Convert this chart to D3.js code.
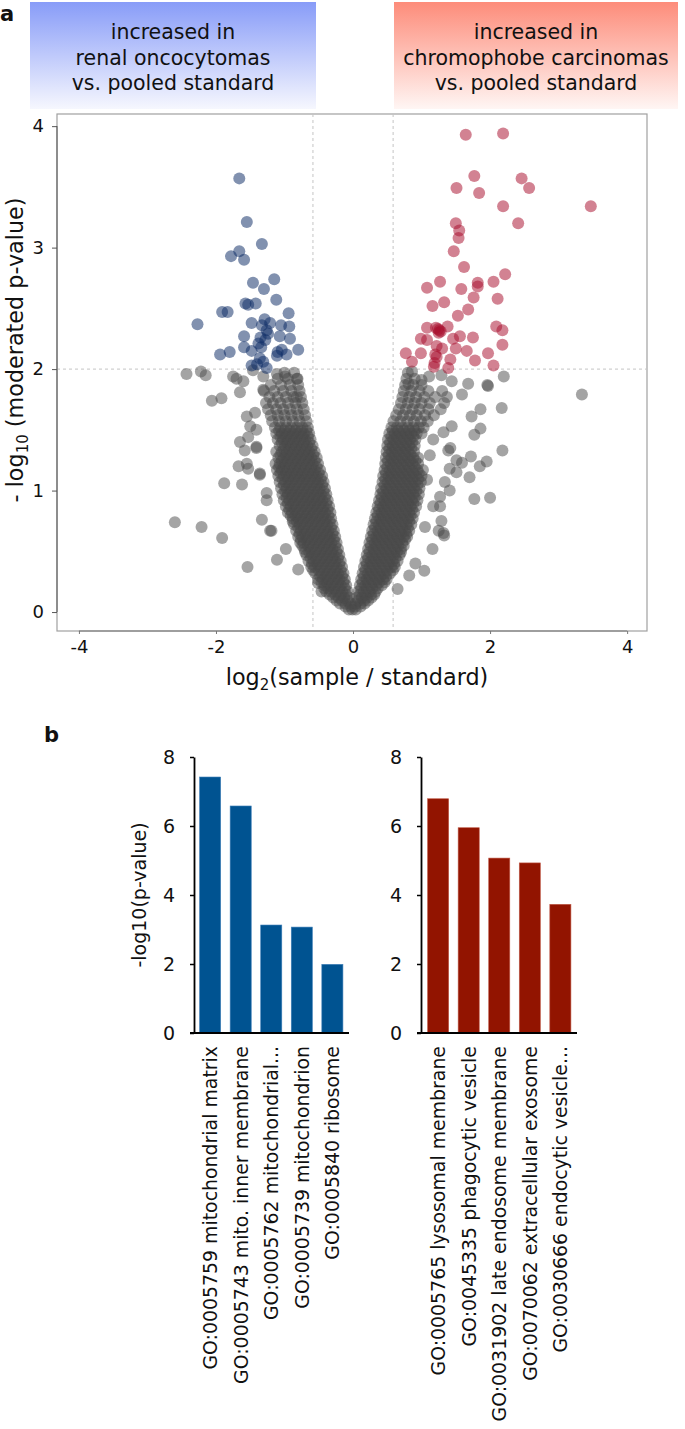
<!DOCTYPE html>
<html><head><meta charset="utf-8">
<script src="https://cdn.jsdelivr.net/npm/d3@7"></script>
<style>
body{margin:0;background:#fff}
text{font-family:"DejaVu Sans",sans-serif;fill:#111}
</style></head>
<body><svg id="c" width="685" height="1429"></svg>
<script>
// ---------------- DATA ----------------
const volcanoXTicks = [-4, -2, 0, 2, 4];
const volcanoYTicks = [0, 1, 2, 3, 4];
const fcThreshold = 0.585;   // log2(1.5)
const pThreshold = 2;

const bluePoints = [[-1.66,3.57],[-1.55,3.21],[-1.33,3.03],[-1.78,2.93],[-1.66,2.97],[-1.59,2.90],[-1.15,2.74],[-1.46,2.71],[-1.30,2.66],[-1.12,2.57],[-1.57,2.54],[-1.42,2.54],[-1.53,2.53],[-1.91,2.47],[-1.83,2.47],[-0.94,2.46],[-2.27,2.37],[-1.48,2.38],[-1.29,2.41],[-1.21,2.38],[-1.05,2.36],[-0.93,2.35],[-1.26,2.32],[-1.59,2.27],[-1.07,2.27],[-0.92,2.25],[-1.28,2.24],[-1.38,2.21],[-1.59,2.18],[-1.48,2.15],[-1.04,2.16],[-0.80,2.16],[-1.94,2.12],[-1.80,2.14],[-1.11,2.11],[-0.97,2.12],[-1.36,2.09],[-1.48,2.03],[-1.31,2.06],[-1.26,2.01],[-1.33,2.36],[-1.24,2.29],[-1.34,2.18],[-1.10,2.14],[-1.40,2.04],[-1.35,2.26]];

const redPoints = [[1.645,3.93],[2.19,3.94],[1.77,3.59],[2.46,3.57],[2.57,3.49],[1.51,3.49],[1.84,3.45],[2.19,3.34],[3.47,3.34],[2.41,3.20],[1.50,3.20],[1.55,3.14],[1.54,3.08],[1.47,2.97],[1.62,2.84],[2.22,2.78],[2.05,2.72],[1.82,2.71],[1.82,2.68],[1.27,2.72],[1.08,2.67],[1.58,2.66],[1.76,2.59],[2.11,2.58],[1.33,2.55],[1.16,2.52],[1.68,2.49],[1.53,2.44],[2.09,2.35],[2.18,2.32],[1.38,2.35],[1.08,2.34],[1.21,2.34],[1.26,2.32],[1.28,2.31],[0.99,2.25],[1.08,2.24],[1.46,2.25],[1.56,2.27],[1.75,2.26],[2.18,2.20],[1.22,2.19],[1.30,2.17],[1.50,2.17],[1.66,2.15],[0.77,2.13],[0.99,2.13],[1.97,2.13],[1.22,2.10],[1.42,2.08],[0.86,2.06],[1.78,2.07],[1.19,2.05],[2.05,2.03],[1.39,2.01],[1.18,2.02],[1.24,2.33],[1.25,2.30],[1.20,2.12]];

const grayOutliers = [[-2.43,1.96],[-2.22,1.98],[-2.15,1.95],[-2.06,1.74],[-1.92,1.76],[-1.70,1.92],[-1.60,1.90],[-1.65,1.81],[-1.55,1.61],[-1.50,1.53],[-1.65,1.40],[-1.53,1.44],[-1.41,1.35],[-1.58,1.33],[-1.67,1.20],[-1.55,1.22],[-1.53,1.18],[-1.36,1.13],[-1.88,1.06],[-1.62,1.05],[-1.26,0.98],[-2.60,0.74],[-2.21,0.70],[-1.91,0.61],[-1.54,0.37],[-1.11,0.43],[-1.33,0.76],[-0.98,0.52],[-1.21,0.67],[-1.26,0.92],
[-1.75,1.94],[-1.46,1.99],[-1.31,1.94],[-1.11,1.96],[-0.99,1.94],[-0.81,1.92],
[-1.41,1.36],[-1.36,1.14],[-1.19,0.67],[-0.80,0.35],[-1.41,1.50],[-1.43,1.64],[-1.31,1.83],[-0.82,1.77],[-0.51,0.24],[-0.46,0.17],
[3.34,1.79],[2.20,1.94],[1.97,1.86],[1.68,1.88],[1.59,1.79],[1.44,1.90],[2.17,1.68],[1.86,1.67],[1.73,1.61],[1.86,1.51],[1.77,1.46],[2.18,1.33],[1.72,1.28],[1.59,1.23],[1.95,1.24],[1.85,1.20],[1.70,1.11],[1.51,1.15],[1.41,1.18],[1.39,1.33],[1.77,0.93],[2.00,0.94],[1.41,1.00],[1.34,1.07],[1.29,0.75],[1.33,0.63],[1.25,0.67],[1.16,0.52],[1.04,0.34],[0.82,0.30],[1.05,0.70],[1.27,0.87],[1.44,1.53],[1.32,1.48],[1.17,1.42],[1.12,1.29],[0.65,0.19],
[0.86,1.98],[0.81,1.88],[1.00,1.91],[1.11,1.94],[1.29,1.95],[1.96,1.87],
[1.27,0.95],[1.17,0.87],[1.32,0.65],[0.91,0.40],[1.08,1.09],[1.51,1.25],[1.42,1.35]];

// dense core of non-significant proteins, read row by row: [y, x values]
const grayCoreRows = [
[0.02,[-0.06,-0.01,0.04]],
[0.045,[-0.03,-0.11,0.03,0.11]],
[0.07,[-0.04,-0.11,-0.19,0.04,0.11,0.17]],
[0.095,[-0.08,-0.16,-0.24,0.08,0.16,0.22]],
[0.12,[-0.06,-0.13,-0.21,-0.29,0.06,0.13,0.20,0.27]],
[0.145,[-0.10,-0.18,-0.26,-0.34,0.10,0.18,0.26,0.31]],
[0.17,[-0.08,-0.16,-0.24,-0.32,-0.39,0.08,0.16,0.24,0.33]],
[0.195,[-0.12,-0.20,-0.28,-0.36,-0.42,0.12,0.20,0.28,0.36]],
[0.22,[-0.10,-0.18,-0.26,-0.34,-0.42,0.10,0.18,0.26,0.34,0.42]],
[0.245,[-0.14,-0.22,-0.30,-0.38,-0.46,0.14,0.22,0.30,0.38,0.46]],
[0.27,[-0.12,-0.20,-0.28,-0.36,-0.44,-0.51,0.12,0.20,0.28,0.36,0.44,0.49]],
[0.295,[-0.16,-0.24,-0.32,-0.40,-0.48,0.16,0.24,0.32,0.40,0.48]],
[0.32,[-0.14,-0.22,-0.30,-0.38,-0.46,-0.55,0.14,0.22,0.30,0.38,0.46,0.54]],
[0.345,[-0.18,-0.26,-0.34,-0.42,-0.50,-0.58,0.18,0.26,0.34,0.42,0.50,0.58]],
[0.37,[-0.16,-0.24,-0.32,-0.40,-0.48,-0.56,-0.61,0.16,0.24,0.32,0.40,0.48,0.56,0.61]],
[0.395,[-0.20,-0.28,-0.36,-0.44,-0.52,-0.60,0.20,0.28,0.36,0.44,0.52,0.60]],
[0.42,[-0.18,-0.26,-0.34,-0.42,-0.50,-0.58,-0.65,0.18,0.26,0.34,0.42,0.50,0.58,0.65]],
[0.445,[-0.22,-0.30,-0.38,-0.46,-0.54,-0.62,0.22,0.30,0.38,0.46,0.54,0.62]],
[0.47,[-0.20,-0.28,-0.36,-0.44,-0.52,-0.60,-0.68,0.20,0.28,0.36,0.44,0.52,0.60,0.68]],
[0.495,[-0.24,-0.32,-0.40,-0.48,-0.56,-0.64,-0.70,0.24,0.32,0.40,0.48,0.56,0.64,0.70]],
[0.52,[-0.22,-0.30,-0.38,-0.46,-0.54,-0.62,-0.71,0.22,0.30,0.38,0.46,0.54,0.62,0.70]],
[0.545,[-0.26,-0.34,-0.42,-0.50,-0.58,-0.66,-0.74,0.26,0.34,0.42,0.50,0.58,0.66,0.74]],
[0.57,[-0.24,-0.32,-0.40,-0.48,-0.56,-0.64,-0.72,-0.77,0.24,0.32,0.40,0.48,0.56,0.64,0.72]],
[0.595,[-0.28,-0.36,-0.44,-0.52,-0.60,-0.68,-0.76,0.28,0.36,0.44,0.52,0.60,0.68,0.76]],
[0.62,[-0.26,-0.34,-0.42,-0.50,-0.58,-0.66,-0.74,-0.80,0.26,0.34,0.42,0.50,0.58,0.66,0.74,0.79]],
[0.645,[-0.30,-0.38,-0.46,-0.54,-0.62,-0.70,-0.78,0.30,0.38,0.46,0.54,0.62,0.70,0.78]],
[0.67,[-0.28,-0.36,-0.44,-0.52,-0.60,-0.68,-0.76,-0.83,0.28,0.36,0.44,0.52,0.60,0.68,0.76,0.82]],
[0.695,[-0.32,-0.40,-0.48,-0.56,-0.64,-0.72,-0.80,0.32,0.40,0.48,0.56,0.64,0.72,0.80]],
[0.72,[-0.30,-0.38,-0.46,-0.54,-0.62,-0.70,-0.78,-0.86,0.30,0.38,0.46,0.54,0.62,0.70,0.78,0.85]],
[0.745,[-0.34,-0.42,-0.50,-0.58,-0.66,-0.74,-0.82,-0.88,0.34,0.42,0.50,0.58,0.66,0.74,0.82]],
[0.77,[-0.32,-0.40,-0.48,-0.56,-0.64,-0.72,-0.80,-0.88,0.32,0.40,0.48,0.56,0.64,0.72,0.80,0.87]],
[0.795,[-0.36,-0.44,-0.52,-0.60,-0.68,-0.76,-0.84,-0.91,0.36,0.44,0.52,0.60,0.68,0.76,0.84]],
[0.82,[-0.33,-0.41,-0.49,-0.57,-0.65,-0.73,-0.81,-0.89,-0.95,0.34,0.42,0.50,0.58,0.66,0.74,0.82,0.89]],
[0.845,[-0.37,-0.45,-0.53,-0.61,-0.69,-0.77,-0.85,-0.93,0.38,0.46,0.54,0.62,0.70,0.78,0.86]],
[0.87,[-0.35,-0.43,-0.51,-0.59,-0.67,-0.75,-0.83,-0.91,-0.98,0.36,0.44,0.52,0.60,0.68,0.76,0.84,0.92]],
[0.895,[-0.39,-0.47,-0.55,-0.63,-0.71,-0.79,-0.87,-0.95,0.40,0.48,0.56,0.64,0.72,0.80,0.88]],
[0.92,[-0.37,-0.45,-0.53,-0.61,-0.69,-0.77,-0.85,-0.93,-1.01,0.38,0.46,0.54,0.62,0.70,0.78,0.86,0.94]],
[0.945,[-0.41,-0.49,-0.57,-0.65,-0.73,-0.81,-0.89,-0.97,0.42,0.50,0.58,0.66,0.74,0.82,0.90]],
[0.97,[-0.39,-0.47,-0.55,-0.63,-0.71,-0.79,-0.87,-0.95,-1.03,0.40,0.48,0.56,0.64,0.72,0.80,0.88,0.96]],
[0.995,[-0.43,-0.51,-0.59,-0.67,-0.75,-0.83,-0.91,-0.99,0.44,0.52,0.60,0.68,0.76,0.84,0.92]],
[1.02,[-0.41,-0.49,-0.57,-0.65,-0.73,-0.81,-0.89,-0.97,-1.05,0.41,0.49,0.57,0.65,0.73,0.81,0.89,0.97]],
[1.045,[-0.45,-0.53,-0.61,-0.69,-0.77,-0.85,-0.93,-1.01,0.46,0.54,0.62,0.70,0.78,0.86,0.94]],
[1.07,[-0.43,-0.51,-0.59,-0.67,-0.75,-0.83,-0.91,-0.99,-1.07,0.43,0.51,0.59,0.67,0.75,0.83,0.91,0.99]],
[1.095,[-0.47,-0.55,-0.63,-0.71,-0.79,-0.87,-0.95,-1.03,0.47,0.55,0.63,0.71,0.79,0.87,0.95]],
[1.12,[-0.45,-0.53,-0.61,-0.69,-0.77,-0.85,-0.93,-1.01,-1.09,0.44,0.52,0.60,0.68,0.76,0.84,0.92,1.00]],
[1.145,[-0.50,-0.58,-0.66,-0.74,-0.82,-0.90,-0.98,-1.06,0.48,0.56,0.64,0.72,0.80,0.88,0.96]],
[1.17,[-0.48,-0.56,-0.64,-0.72,-0.80,-0.88,-0.96,-1.04,-1.11,0.46,0.54,0.62,0.70,0.78,0.86,0.94,1.02]],
[1.195,[-0.53,-0.61,-0.69,-0.77,-0.85,-0.93,-1.01,-1.08,0.50,0.58,0.66,0.74,0.82,0.90]],
[1.22,[-0.51,-0.59,-0.67,-0.75,-0.83,-0.91,-0.99,-1.07,-1.13,0.47,0.55,0.63,0.71,0.79,0.87,0.95]],
[1.245,[-0.56,-0.64,-0.72,-0.80,-0.88,-0.96,-1.04,0.51,0.59,0.67,0.75,0.83,0.91]],
[1.27,[-0.53,-0.61,-0.69,-0.77,-0.85,-0.93,-1.01,-1.09,0.48,0.56,0.64,0.72,0.80,0.88,0.95]],
[1.295,[-0.58,-0.66,-0.74,-0.82,-0.90,-0.98,-1.06,0.52,0.60,0.68,0.76,0.84]],
[1.32,[-0.56,-0.64,-0.72,-0.80,-0.88,-0.96,-1.04,-1.12,0.49,0.57,0.65,0.73,0.81,0.89]],
[1.345,[-0.61,-0.69,-0.77,-0.85,-0.93,-1.01,0.53,0.61,0.69,0.77,0.85]],
[1.37,[-0.59,-0.67,-0.75,-0.83,-0.91,-0.99,-1.07,0.50,0.58,0.66,0.74,0.82,0.90]],
[1.395,[-0.64,-0.72,-0.80,-0.88,-0.96,-1.04,0.54,0.62,0.70,0.78,0.86]],
[1.42,[-0.62,-0.70,-0.78,-0.86,-0.94,-1.02,-1.10,0.51,0.59,0.67,0.75,0.83,0.91]],
[1.445,[-0.66,-0.74,-0.82,-0.90,-0.98,-1.06,0.56,0.64,0.72,0.80,0.88]],
[1.47,[-0.64,-0.72,-0.80,-0.88,-0.96,-1.04,-1.12,0.53,0.61,0.69,0.77,0.85,0.93,1.00]],
[1.495,[-0.68,-0.76,-0.84,-0.92,-1.00,-1.08,0.58,0.66,0.74,0.82,0.90]],
[1.52,[-0.66,-0.74,-0.82,-0.90,-0.98,-1.06,-1.14,0.56,0.64,0.72,0.80,0.88,0.96,1.03]],
[1.57,[-0.68,-0.78,-0.88,-0.98,-1.08,-1.18,0.59,0.69,0.79,0.89,0.99,1.09]],
[1.62,[-0.70,-0.80,-0.90,-1.00,-1.10,-1.20,0.63,0.73,0.83,0.93,1.05,1.18]],
[1.67,[-0.72,-0.82,-0.92,-1.02,-1.12,-1.24,0.67,0.77,0.87,0.97,1.10,1.28]],
[1.72,[-0.74,-0.84,-0.95,-1.06,-1.17,-1.27,0.70,0.80,0.90,1.00,1.12,1.33]],
[1.77,[-0.76,-0.87,-0.98,-1.10,-1.22,0.72,0.82,0.92,1.04,1.20,1.37]],
[1.82,[-0.78,-0.90,-1.02,-1.15,-1.30,0.74,0.85,0.97,1.10,1.30]],
[1.87,[-0.80,-0.92,-1.05,-1.20,0.76,0.88,1.00]],
[1.92,[-0.82,-0.95,-1.10,0.78,0.90]],
[1.97,[-0.86,-1.00,0.80]]
];

const headerLeft = ["increased in", "renal oncocytomas", "vs. pooled standard"];
const headerRight = ["increased in", "chromophobe carcinomas", "vs. pooled standard"];

const barTicks = [0, 2, 4, 6, 8];
const leftTerms = ["GO:0005759 mitochondrial matrix", "GO:0005743 mito. inner membrane", "GO:0005762 mitochondrial...", "GO:0005739 mitochondrion", "GO:0005840 ribosome"];
const leftValues = [7.42, 6.58, 3.13, 3.07, 1.99];
const rightTerms = ["GO:0005765 lysosomal membrane", "GO:0045335 phagocytic vesicle", "GO:0031902 late endosome membrane", "GO:0070062 extracellular exosome", "GO:0030666 endocytic vesicle..."];
const rightValues = [6.79, 5.95, 5.07, 4.93, 3.73];

// ---------------- DRAW ----------------
const svg = d3.select("#c");
const defs = svg.append("defs");
function grad(id, top, bottom){
  const g = defs.append("linearGradient").attr("id", id).attr("x1",0).attr("y1",0).attr("x2",0).attr("y2",1);
  g.append("stop").attr("offset","0%").attr("stop-color", top);
  g.append("stop").attr("offset","100%").attr("stop-color", bottom);
}
grad("gBlue", "#889cf8", "#f6f7fe");
grad("gRed", "#fd8c7a", "#fff6f4");

// panel labels
svg.append("text").attr("x", 0).attr("y", 21).attr("font-size", 21).attr("font-weight", "bold").text("a");
svg.append("text").attr("x", 44).attr("y", 742).attr("font-size", 21).attr("font-weight", "bold").text("b");

// header boxes
svg.append("rect").attr("x", 30).attr("y", 2).attr("width", 286).attr("height", 107).attr("fill", "url(#gBlue)");
svg.append("rect").attr("x", 394).attr("y", 2).attr("width", 284).attr("height", 107).attr("fill", "url(#gRed)");
const hy = [39, 64.5, 90];
headerLeft.forEach((t,i)=> svg.append("text").attr("x",173).attr("y",hy[i]).attr("text-anchor","middle").attr("font-size",20.5).text(t));
headerRight.forEach((t,i)=> svg.append("text").attr("x",536).attr("y",hy[i]).attr("text-anchor","middle").attr("font-size",20.5).text(t));

// volcano scales
const x = d3.scaleLinear().domain([-4.32, 4.29]).range([57, 647]);
const y = d3.scaleLinear().domain([-0.156, 4.1]).range([631, 114]);

// box
svg.append("rect").attr("x", x.range()[0]).attr("y", y.range()[1])
  .attr("width", x.range()[1]-x.range()[0]).attr("height", y.range()[0]-y.range()[1])
  .attr("fill","none").attr("stroke","#a0a0a0").attr("stroke-width",1.2);

// threshold lines
const dash = svg.append("g").attr("stroke","#c4c4c4").attr("stroke-width",1).attr("stroke-dasharray","3,3");
[-fcThreshold, fcThreshold].forEach(v => dash.append("line").attr("x1",x(v)).attr("x2",x(v)).attr("y1",y.range()[1]).attr("y2",y.range()[0]));
dash.append("line").attr("x1",x.range()[0]).attr("x2",x.range()[1]).attr("y1",y(pThreshold)).attr("y2",y(pThreshold));

// points
const grayCore = [];
grayCoreRows.forEach(([yy, xs]) => xs.forEach(xx => grayCore.push([xx, yy])));
const grayAll = grayCore.concat(grayOutliers);
const R = 6;
svg.append("g").selectAll("circle").data(grayAll).join("circle")
  .attr("cx", d=>x(d[0])).attr("cy", d=>y(d[1])).attr("r", R)
  .attr("fill","#4a4a4a").attr("fill-opacity",0.5);
svg.append("g").selectAll("circle").data(bluePoints).join("circle")
  .attr("cx", d=>x(d[0])).attr("cy", d=>y(d[1])).attr("r", R)
  .attr("fill","#0d2d66").attr("fill-opacity",0.52);
svg.append("g").selectAll("circle").data(redPoints).join("circle")
  .attr("cx", d=>x(d[0])).attr("cy", d=>y(d[1])).attr("r", R)
  .attr("fill","#a8102e").attr("fill-opacity",0.52);

// axes (R style)
const ax = svg.append("g").attr("transform", `translate(0,${y.range()[0]})`)
  .call(d3.axisBottom(x).tickValues(volcanoXTicks).tickSize(3).tickPadding(6).tickFormat(d=>String(d)));
ax.select(".domain").remove();
ax.append("line").attr("x1",x(volcanoXTicks[0])).attr("x2",x(volcanoXTicks[volcanoXTicks.length-1])).attr("stroke","#777");
ax.selectAll(".tick line").attr("stroke","#777");
ax.selectAll(".tick text").attr("font-size",18).attr("font-family","DejaVu Sans").attr("fill","#111");

const ay = svg.append("g").attr("transform", `translate(${x.range()[0]},0)`)
  .call(d3.axisLeft(y).tickValues(volcanoYTicks).tickSize(5).tickPadding(8).tickFormat(d=>String(d)));
ay.select(".domain").remove();
ay.append("line").attr("y1",y(volcanoYTicks[0])).attr("y2",y(volcanoYTicks[volcanoYTicks.length-1])).attr("stroke","#555");
ay.selectAll(".tick line").attr("stroke","#555");
ay.selectAll(".tick text").attr("font-size",18).attr("font-family","DejaVu Sans").attr("fill","#111");

// axis titles
const xt = svg.append("text").attr("x", 357).attr("y", 685).attr("text-anchor","middle").attr("font-size",22.3);
xt.append("tspan").text("log");
xt.append("tspan").attr("font-size",15).attr("dy",5).text("2");
xt.append("tspan").attr("dy",-5).text("(sample / standard)");

const yt = svg.append("text").attr("transform","translate(23,350) rotate(-90)").attr("text-anchor","middle").attr("font-size",22.3);
yt.append("tspan").text("- log");
yt.append("tspan").attr("font-size",15).attr("dy",5).text("10");
yt.append("tspan").attr("dy",-5).text(" (moderated p-value)");

// ---------------- BAR CHARTS ----------------
const yb = d3.scaleLinear().domain([0, 8]).range([1033, 757]);
function barChart(terms, values, range, axisX, color, stroke){
  const xb = d3.scaleBand().domain(terms).range(range).paddingInner(0.31).paddingOuter(0.15);
  const g = svg.append("g");
  g.selectAll("rect").data(terms).join("rect")
    .attr("x", d=>xb(d)).attr("width", xb.bandwidth())
    .attr("y", (d,i)=>yb(values[i])).attr("height", (d,i)=>yb(0)-yb(values[i]))
    .attr("fill", color).attr("stroke", stroke).attr("stroke-width", 0.6);
  const a = g.append("g").attr("transform", `translate(${axisX},0)`)
    .call(d3.axisLeft(yb).tickValues(barTicks).tickSize(4).tickSizeOuter(0).tickPadding(15).tickFormat(d=>String(d)));
  a.select(".domain").attr("stroke","#000").attr("stroke-width",1.8);
  a.selectAll(".tick line").attr("stroke","#000").attr("stroke-width",1.5);
  a.selectAll(".tick text").attr("font-size",19).attr("font-family","DejaVu Sans").attr("fill","#111");
  g.append("line").attr("x1", axisX-4).attr("x2", range[1]+1.5).attr("y1", yb(0)).attr("y2", yb(0))
    .attr("stroke","#000").attr("stroke-width",2);
  g.selectAll("text.lab").data(terms).join("text").attr("class","lab")
    .attr("transform", d=>`translate(${xb(d)+xb.bandwidth()/2+7},1046) rotate(-90)`)
    .attr("text-anchor","end").attr("font-size",18.9).text(d=>d);
}
barChart(leftTerms, leftValues, [195, 347.5], 194, "#005391", "#3f7fb8");
barChart(rightTerms, rightValues, [423, 575.5], 421, "#921400", "#c05a48");

svg.append("text").attr("transform","translate(146,895) rotate(-90)").attr("text-anchor","middle").attr("font-size",19).text("-log10(p-value)");
</script></body></html>
